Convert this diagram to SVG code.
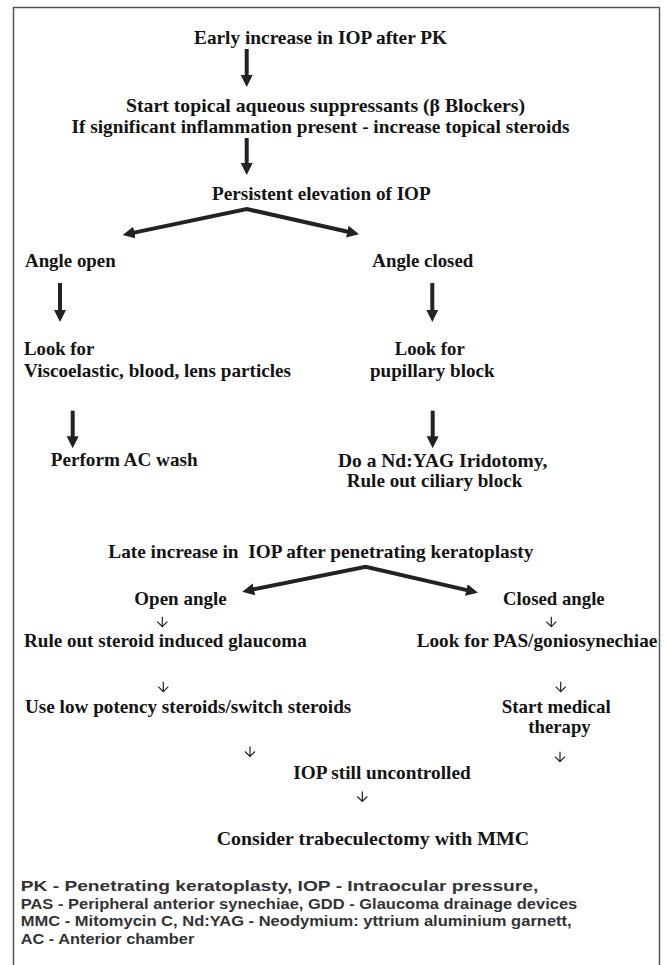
<svg xmlns="http://www.w3.org/2000/svg" width="668" height="965" viewBox="0 0 668 965">
<style>
.t{font-family:"Liberation Serif","Times New Roman",serif;font-weight:bold;font-size:19px;fill:#141414}
.f{font-family:"Liberation Sans",Arial,sans-serif;font-weight:bold;font-size:14px;fill:#333}
.a{stroke:#222;stroke-width:4;fill:none}
.s{stroke:#222;stroke-width:1.2;fill:none}
</style>
<defs>
<marker id="h" markerUnits="userSpaceOnUse" markerWidth="12" markerHeight="12" refX="4" refY="6" orient="auto-start-reverse">
<path d="M0,0 L12,6 L0,12 z" fill="#222"/>
</marker>
</defs>
<rect x="13.5" y="7.5" width="646" height="980" fill="#fff" stroke="#555" stroke-width="1.5"/>
<g id="connectors">
<path class="a" d="M246.7,49 V79" marker-end="url(#h)"/>
<path class="a" d="M246.7,138 V167" marker-end="url(#h)"/>
<path class="a" d="M130.5,233.4 L246.7,209 L351.2,232.5" marker-start="url(#h)" marker-end="url(#h)"/>
<path class="a" d="M60,283 V314" marker-end="url(#h)"/>
<path class="a" d="M432.3,283 V314" marker-end="url(#h)"/>
<path class="a" d="M72.7,410.7 V440.3" marker-end="url(#h)"/>
<path class="a" d="M432.7,410.7 V440.3" marker-end="url(#h)"/>
<path class="a" d="M250.1,590.1 L365.7,566.7 L470.2,590.9" marker-start="url(#h)" marker-end="url(#h)"/>
<path class="s" d="M162.3,616.7 V626.7 M157.3,621.7 L162.3,626.7 L167.3,621.7"/>
<path class="s" d="M551.3,616.7 V626.7 M546.3,621.7 L551.3,626.7 L556.3,621.7"/>
<path class="s" d="M163.3,681.7 V691.7 M158.3,686.7 L163.3,691.7 L168.3,686.7"/>
<path class="s" d="M560.7,681.7 V691.7 M555.7,686.7 L560.7,691.7 L565.7,686.7"/>
<path class="s" d="M250,746.5 V756.5 M245,751.5 L250,756.5 L255,751.5"/>
<path class="s" d="M560,751.7 V761.7 M555,756.7 L560,761.7 L565,756.7"/>
<path class="s" d="M362.3,791.5 V801.5 M357.3,796.5 L362.3,801.5 L367.3,796.5"/>
</g>
<g id="n1"><text class="t" x="194" y="43.5" textLength="253" lengthAdjust="spacingAndGlyphs">Early increase in IOP after PK</text></g>
<g id="n2"><text class="t" x="126" y="112" textLength="399" lengthAdjust="spacingAndGlyphs">Start topical aqueous suppressants (β Blockers)</text>
<text class="t" x="71.5" y="133" textLength="498" lengthAdjust="spacingAndGlyphs">If significant inflammation present - increase topical steroids</text></g>
<g id="n3"><text class="t" x="212" y="200" textLength="218.7" lengthAdjust="spacingAndGlyphs">Persistent elevation of IOP</text></g>
<g id="n4"><text class="t" x="25" y="266.7" textLength="90.7" lengthAdjust="spacingAndGlyphs">Angle open</text></g>
<g id="n5"><text class="t" x="372.3" y="266.7" textLength="101" lengthAdjust="spacingAndGlyphs">Angle closed</text></g>
<g id="n6"><text class="t" x="24" y="355" textLength="70.3" lengthAdjust="spacingAndGlyphs">Look for</text>
<text class="t" x="24" y="377" textLength="267" lengthAdjust="spacingAndGlyphs">Viscoelastic, blood, lens particles</text></g>
<g id="n7"><text class="t" x="394.7" y="355" textLength="70" lengthAdjust="spacingAndGlyphs">Look for</text>
<text class="t" x="370" y="377" textLength="124.7" lengthAdjust="spacingAndGlyphs">pupillary block</text></g>
<g id="n8"><text class="t" x="50.7" y="466" textLength="147" lengthAdjust="spacingAndGlyphs">Perform AC wash</text></g>
<g id="n9"><text class="t" x="338" y="466.7" textLength="209.3" lengthAdjust="spacingAndGlyphs">Do a Nd:YAG Iridotomy,</text>
<text class="t" x="346.7" y="487" textLength="175.6" lengthAdjust="spacingAndGlyphs">Rule out ciliary block</text></g>
<g id="n10"><text class="t" x="108.3" y="558.3" textLength="425" lengthAdjust="spacingAndGlyphs" xml:space="preserve">Late increase in  IOP after penetrating keratoplasty</text></g>
<g id="n11"><text class="t" x="134.3" y="605" textLength="92.4" lengthAdjust="spacingAndGlyphs">Open angle</text></g>
<g id="n12"><text class="t" x="503" y="605" textLength="101.7" lengthAdjust="spacingAndGlyphs">Closed angle</text></g>
<g id="n13"><text class="t" x="24" y="647.3" textLength="282.7" lengthAdjust="spacingAndGlyphs">Rule out steroid induced glaucoma</text></g>
<g id="n14"><text class="t" x="416.7" y="647.3" textLength="240.6" lengthAdjust="spacingAndGlyphs">Look for PAS/goniosynechiae</text></g>
<g id="n15"><text class="t" x="25" y="713.3" textLength="326.3" lengthAdjust="spacingAndGlyphs">Use low potency steroids/switch steroids</text></g>
<g id="n16"><text class="t" x="501.7" y="713.3" textLength="109" lengthAdjust="spacingAndGlyphs">Start medical</text>
<text class="t" x="528.3" y="732.5" textLength="62.4" lengthAdjust="spacingAndGlyphs">therapy</text></g>
<g id="n17"><text class="t" x="293.3" y="779.3" textLength="177.4" lengthAdjust="spacingAndGlyphs">IOP still uncontrolled</text></g>
<g id="n18"><text class="t" x="216.7" y="845" textLength="312.3" lengthAdjust="spacingAndGlyphs">Consider trabeculectomy with MMC</text></g>
<g id="legend">
<text class="f" x="20.7" y="891" textLength="517.6" lengthAdjust="spacingAndGlyphs">PK - Penetrating keratoplasty, IOP - Intraocular pressure,</text>
<text class="f" x="20.7" y="908.5" textLength="556.6" lengthAdjust="spacingAndGlyphs">PAS - Peripheral anterior synechiae, GDD - Glaucoma drainage devices</text>
<text class="f" x="20.7" y="926" textLength="551" lengthAdjust="spacingAndGlyphs">MMC - Mitomycin C, Nd:YAG - Neodymium: yttrium aluminium garnett,</text>
<text class="f" x="20.7" y="943.5" textLength="173.6" lengthAdjust="spacingAndGlyphs">AC - Anterior chamber</text>
</g>
</svg>
